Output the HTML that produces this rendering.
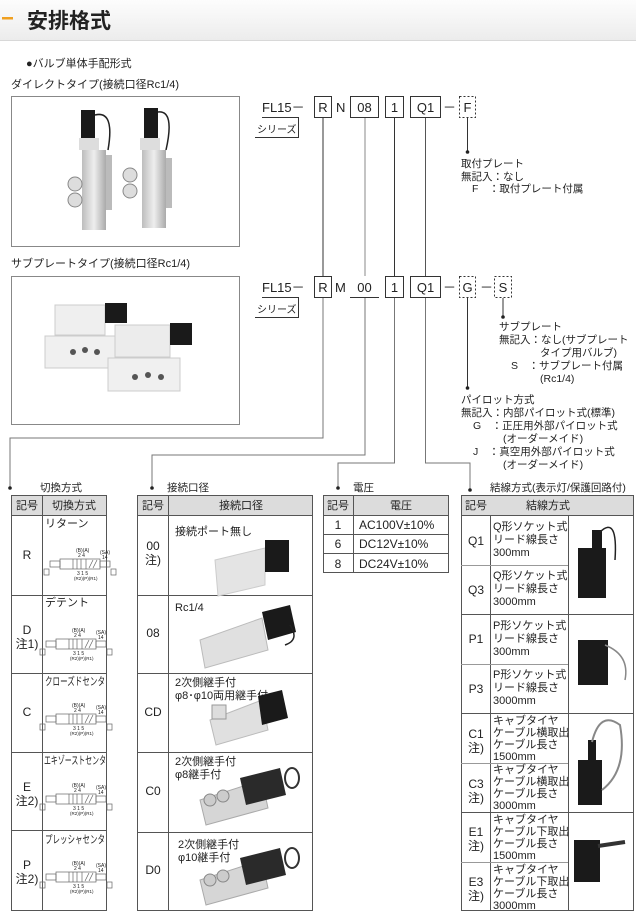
<!DOCTYPE html>
<html><head><meta charset="utf-8"><style>
html,body{margin:0;padding:0;background:#fff}
svg{display:block}
text{font-family:"Liberation Sans","Noto Sans CJK JP",sans-serif;fill:#222}
</style></head><body>
<svg width="636" height="912" viewBox="0 0 636 912" xmlns="http://www.w3.org/2000/svg">
<defs>
<linearGradient id="hg" x1="0" y1="0" x2="0" y2="1"><stop offset="0" stop-color="#fdfdfd"/><stop offset="1" stop-color="#ececec"/></linearGradient>
<linearGradient id="mg" x1="0" y1="0" x2="1" y2="0"><stop offset="0" stop-color="#bdbdbd"/><stop offset=".5" stop-color="#eeeeee"/><stop offset="1" stop-color="#aaaaaa"/></linearGradient>
<g id="sym" stroke="#666" stroke-width="0.7" fill="none">
<rect x="-20" y="-6" width="40" height="10"/><line x1="-7" y1="-6" x2="-7" y2="4"/><line x1="6" y1="-6" x2="6" y2="4"/>
<line x1="9" y1="3" x2="13" y2="-5"/><line x1="13" y1="3" x2="17" y2="-5"/><line x1="-3" y1="-6" x2="-3" y2="4"/><line x1="1" y1="-6" x2="1" y2="4"/>
<rect x="-30" y="-4" width="10" height="6"/><rect x="20" y="-4" width="10" height="6"/>
<text x="-4" y="-13" font-size="5" fill="#666" stroke="none">(B)(A)</text><text x="-2" y="-8" font-size="5" fill="#666" stroke="none">2 4</text>
<text x="20" y="-11" font-size="5" fill="#666" stroke="none">(SA)</text><text x="22" y="-6" font-size="5" fill="#666" stroke="none">14</text>
<text x="-3" y="10" font-size="5" fill="#666" stroke="none">3 1 5</text><text x="-6" y="15" font-size="4.5" fill="#666" stroke="none">(R2)(P)(R1)</text>
<rect x="31" y="4" width="5" height="6"/><rect x="-36" y="4" width="5" height="6"/>
</g>
</defs>
<rect x="0" y="0" width="636" height="40" fill="url(#hg)"/>
<line x1="0" y1="40.5" x2="636" y2="40.5" stroke="#d8d8d8"/>
<rect x="2" y="17" width="11" height="2.5" fill="#f0a020"/>
<text x="27" y="28" font-size="21" font-weight="bold" fill="#222">安排格式</text>
<text x="26" y="67" font-size="11">●バルブ単体手配形式</text>
<text x="11" y="88" font-size="11">ダイレクトタイプ(接続口径Rc1/4)</text>
<text x="11" y="267" font-size="11">サブプレートタイプ(接続口径Rc1/4)</text>
<rect x="11.5" y="96.5" width="228" height="150" fill="#fff" stroke="#888"/>
<rect x="11.5" y="276.5" width="228" height="148" fill="#fff" stroke="#888"/>
<g>
<rect x="81" y="110" width="14" height="28" fill="#1a1a1a"/><rect x="82" y="150" width="24" height="80" fill="url(#mg)"/><rect x="106" y="155" width="6" height="55" fill="#bbb"/>
<circle cx="75" cy="184" r="7" fill="#ddd" stroke="#888"/><circle cx="75" cy="200" r="7" fill="#ddd" stroke="#888"/><rect x="79" y="138" width="20" height="12" fill="#ddd"/>
<path d="M95 115 Q115 110 108 150" stroke="#222" stroke-width="1.5" fill="none"/>
<rect x="144" y="108" width="14" height="30" fill="#1a1a1a"/><rect x="142" y="150" width="24" height="78" fill="url(#mg)"/><rect x="166" y="158" width="6" height="50" fill="#bbb"/>
<circle cx="130" cy="175" r="7" fill="#ddd" stroke="#888"/><circle cx="130" cy="191" r="7" fill="#ddd" stroke="#888"/><rect x="140" y="138" width="20" height="12" fill="#ddd"/>
<path d="M158 112 Q175 110 166 150" stroke="#222" stroke-width="1.5" fill="none"/>
</g>
<g>
<rect x="55" y="305" width="50" height="30" fill="#efefef" stroke="#ccc"/><rect x="105" y="303" width="22" height="20" fill="#1a1a1a"/>
<rect x="45" y="336" width="70" height="32" fill="#f0f0f0" stroke="#ccc"/><circle cx="73" cy="352" r="3" fill="#555"/><circle cx="85" cy="350" r="3" fill="#555"/><circle cx="97" cy="352" r="3" fill="#555"/>
<rect x="115" y="325" width="55" height="32" fill="#ececec" stroke="#ccc"/><rect x="170" y="323" width="22" height="22" fill="#1a1a1a"/>
<rect x="108" y="358" width="72" height="33" fill="#f0f0f0" stroke="#ccc"/><circle cx="135" cy="377" r="3" fill="#555"/><circle cx="148" cy="375" r="3" fill="#555"/><circle cx="161" cy="377" r="3" fill="#555"/>
</g>
<g font-size="13" fill="#333">
<text x="262" y="112">FL15－</text><text x="336" y="112">N</text>
<text x="262" y="292">FL15－</text><text x="335" y="292">M</text>
<text x="443" y="112">－</text><text x="443" y="292">－</text><text x="480" y="292">－</text>
</g>
<g fill="none" stroke="#333" stroke-width="1">
<rect x="314.5" y="96.5" width="17" height="21"/><rect x="350.5" y="96.5" width="28" height="21"/><rect x="385.5" y="96.5" width="18" height="21"/><rect x="410.5" y="96.5" width="30" height="21"/>
<rect x="459.5" y="96.5" width="16" height="21" stroke-dasharray="2,2"/>
<rect x="314.5" y="276.5" width="17" height="21"/><line x1="350" y1="297.5" x2="379" y2="297.5"/><rect x="385.5" y="276.5" width="18" height="21"/><rect x="410.5" y="276.5" width="30" height="21"/>
<rect x="459.5" y="276.5" width="16" height="21" stroke-dasharray="2,2"/><rect x="494.5" y="276.5" width="17" height="21" stroke-dasharray="2,2"/>
<polyline points="262,117.5 298.5,117.5 298.5,137"/><line x1="255" y1="137.5" x2="299" y2="137.5"/>
<polyline points="262,297.5 298.5,297.5 298.5,317"/><line x1="255" y1="317.5" x2="299" y2="317.5"/>
</g>
<g font-size="13" fill="#333" text-anchor="middle">
<text x="323" y="112">R</text><text x="364.5" y="112">08</text><text x="394.5" y="112">1</text><text x="425.5" y="112">Q1</text><text x="467.5" y="112">F</text>
<text x="323" y="292">R</text><text x="364.5" y="292">00</text><text x="394.5" y="292">1</text><text x="425.5" y="292">Q1</text><text x="467.5" y="292">G</text><text x="503" y="292">S</text>
</g>
<text x="257" y="133" font-size="10">シリーズ</text><text x="257" y="313" font-size="10">シリーズ</text>
<g fill="none" stroke-width="1">
<line x1="323" y1="118" x2="323" y2="276" stroke="#333"/>
<line x1="365" y1="118" x2="365" y2="276" stroke="#888"/>
<line x1="394.5" y1="118" x2="394.5" y2="276" stroke="#333"/>
<line x1="425.5" y1="118" x2="425.5" y2="276" stroke="#555"/>
<line x1="467.5" y1="118" x2="467.5" y2="152" stroke="#333"/>
<polyline points="323,298 323,438 10,438 10,488" stroke="#777"/>
<polyline points="365,298 365,455 152,455 152,488" stroke="#777"/>
<polyline points="394.5,298 394.5,463 338,463 338,488" stroke="#777"/>
<polyline points="425.5,298 425.5,463 470,463 470,490" stroke="#777"/>
<line x1="467.5" y1="298" x2="467.5" y2="388" stroke="#333"/>
<line x1="503" y1="298" x2="503" y2="317" stroke="#333"/>
</g>
<g fill="#222">
<circle cx="467.5" cy="152" r="1.8"/><circle cx="467.5" cy="388" r="1.8"/><circle cx="503" cy="317" r="1.8"/>
<circle cx="10" cy="488" r="1.8"/><circle cx="152" cy="488" r="1.8"/><circle cx="338" cy="488" r="1.8"/><circle cx="470" cy="490" r="1.8"/>
</g>
<g font-size="10.5">
<text x="461" y="167">取付プレート</text><text x="461" y="180">無記入：なし</text><text x="472" y="192">F　：取付プレート付属</text>
<text x="499" y="330">サブプレート</text><text x="499" y="343">無記入：なし(サブプレート</text><text x="540" y="356">タイプ用バルブ)</text><text x="511" y="369">S　：サブプレート付属</text><text x="540" y="382">(Rc1/4)</text>
<text x="461" y="403">パイロット方式</text><text x="461" y="416">無記入：内部パイロット式(標準)</text><text x="473" y="429">G　：正圧用外部パイロット式</text><text x="503" y="442">(オーダーメイド)</text><text x="473" y="455">J　：真空用外部パイロット式</text><text x="503" y="468">(オーダーメイド)</text>
<text x="40" y="491">切換方式</text><text x="167" y="491">接続口径</text><text x="353" y="491">電圧</text><text x="490" y="491">結線方式(表示灯/保護回路付)</text>
</g>
<g fill="#dcdcdc"><rect x="11" y="495" width="96" height="20"/><rect x="137" y="495" width="176" height="20"/><rect x="323" y="495" width="126" height="20"/><rect x="461" y="495" width="173" height="20"/></g>
<g fill="none" stroke="#555" stroke-width="1">
<rect x="11.5" y="495.5" width="95" height="415"/><line x1="42.5" y1="495" x2="42.5" y2="911"/>
<line x1="11" y1="515.5" x2="107" y2="515.5"/><line x1="11" y1="595.5" x2="107" y2="595.5"/><line x1="11" y1="673.5" x2="107" y2="673.5"/><line x1="11" y1="752.5" x2="107" y2="752.5"/><line x1="11" y1="830.5" x2="107" y2="830.5"/>
<rect x="137.5" y="495.5" width="175" height="415"/><line x1="168.5" y1="495" x2="168.5" y2="911"/>
<line x1="137" y1="515.5" x2="313" y2="515.5"/><line x1="137" y1="595.5" x2="313" y2="595.5"/><line x1="137" y1="673.5" x2="313" y2="673.5"/><line x1="137" y1="752.5" x2="313" y2="752.5"/><line x1="137" y1="832.5" x2="313" y2="832.5"/>
<rect x="323.5" y="495.5" width="125" height="77"/><line x1="353.5" y1="495" x2="353.5" y2="573"/>
<line x1="323" y1="515.5" x2="449" y2="515.5"/><line x1="323" y1="534.5" x2="449" y2="534.5"/><line x1="323" y1="553.5" x2="449" y2="553.5"/>
<rect x="461.5" y="495.5" width="172" height="415"/><line x1="490.5" y1="515" x2="490.5" y2="911"/><line x1="568.5" y1="515" x2="568.5" y2="911"/>
<line x1="461" y1="515.5" x2="634" y2="515.5"/><line x1="461" y1="614.5" x2="634" y2="614.5"/><line x1="461" y1="713.5" x2="634" y2="713.5"/><line x1="461" y1="812.5" x2="634" y2="812.5"/>
</g>
<g fill="none" stroke="#999" stroke-width="1">
<line x1="461" y1="565.5" x2="568" y2="565.5"/><line x1="461" y1="664.5" x2="568" y2="664.5"/><line x1="461" y1="763.5" x2="568" y2="763.5"/><line x1="461" y1="862.5" x2="568" y2="862.5"/>
</g>
<g font-size="11" text-anchor="middle">
<text x="27" y="509">記号</text><text x="74" y="509">切換方式</text>
<text x="153" y="509">記号</text><text x="241" y="509">接続口径</text>
<text x="338" y="509">記号</text><text x="401" y="509">電圧</text>
<text x="476" y="509">記号</text><text x="548" y="509">結線方式</text>
</g>
<g font-size="12" text-anchor="middle" fill="#333">
<text x="27" y="559">R</text><text x="27" y="634">D</text><text x="27" y="648">注1)</text><text x="27" y="716">C</text>
<text x="27" y="791">E</text><text x="27" y="805">注2)</text><text x="27" y="869">P</text><text x="27" y="883">注2)</text>
<text x="153" y="550">00</text><text x="153" y="564">注)</text><text x="153" y="637">08</text><text x="153" y="716">CD</text><text x="153" y="795">C0</text><text x="153" y="874">D0</text>
<text x="338" y="529">1</text><text x="338" y="548">6</text><text x="338" y="568">8</text>
<text x="476" y="545">Q1</text><text x="476" y="594">Q3</text><text x="476" y="643">P1</text><text x="476" y="693">P3</text>
<text x="476" y="738">C1</text><text x="476" y="752">注)</text><text x="476" y="788">C3</text><text x="476" y="802">注)</text>
<text x="476" y="836">E1</text><text x="476" y="850">注)</text><text x="476" y="886">E3</text><text x="476" y="900">注)</text>
</g>
<g font-size="12" fill="#333"><text x="359" y="529">AC100V±10%</text><text x="359" y="548">DC12V±10%</text><text x="359" y="568">DC24V±10%</text></g>
<g font-size="11">
<text x="45" y="527">リターン</text><text x="45" y="606">デテント</text><text x="45" y="685" textLength="60" lengthAdjust="spacingAndGlyphs">クローズドセンタ</text><text x="44" y="764" textLength="62" lengthAdjust="spacingAndGlyphs">エキゾーストセンタ</text><text x="45" y="843" textLength="60" lengthAdjust="spacingAndGlyphs">プレッシャセンタ</text>
<text x="175" y="535">接続ポート無し</text><text x="175" y="611">Rc1/4</text><text x="175" y="686">2次側継手付</text><text x="175" y="699">φ8･φ10両用継手付</text>
<text x="175" y="765">2次側継手付</text><text x="175" y="778">φ8継手付</text><text x="178" y="848">2次側継手付</text><text x="178" y="861">φ10継手付</text>
</g>
<g font-size="11" fill="#333">
<text x="493" y="530">Q形ソケット式</text><text x="493" y="543">リード線長さ</text><text x="493" y="556">300mm</text>
<text x="493" y="579">Q形ソケット式</text><text x="493" y="592">リード線長さ</text><text x="493" y="605">3000mm</text>
<text x="493" y="629">P形ソケット式</text><text x="493" y="642">リード線長さ</text><text x="493" y="655">300mm</text>
<text x="493" y="678">P形ソケット式</text><text x="493" y="691">リード線長さ</text><text x="493" y="704">3000mm</text>
<text x="493" y="724">キャブタイヤ</text><text x="493" y="736">ケーブル横取出</text><text x="493" y="748">ケーブル長さ</text><text x="493" y="760">1500mm</text>
<text x="493" y="773">キャブタイヤ</text><text x="493" y="785">ケーブル横取出</text><text x="493" y="797">ケーブル長さ</text><text x="493" y="809">3000mm</text>
<text x="493" y="823">キャブタイヤ</text><text x="493" y="835">ケーブル下取出</text><text x="493" y="847">ケーブル長さ</text><text x="493" y="859">1500mm</text>
<text x="493" y="873">キャブタイヤ</text><text x="493" y="885">ケーブル下取出</text><text x="493" y="897">ケーブル長さ</text><text x="493" y="909">3000mm</text>
</g>
<use href="#sym" x="80" y="565"/><use href="#sym" x="76" y="645"/><use href="#sym" x="76" y="720"/><use href="#sym" x="76" y="800"/><use href="#sym" x="76" y="878"/>
<g>
<polygon points="215,560 265,548 265,585 218,596" fill="#e4e4e4" stroke="#ccc"/><rect x="265" y="540" width="24" height="32" fill="#1a1a1a"/>
<polygon points="200,640 262,618 268,650 205,668" fill="#e0e0e0" stroke="#bbb"/><polygon points="262,612 290,605 296,632 268,640" fill="#1a1a1a"/><path d="M290 625 Q300 640 285 645" stroke="#222" fill="none" stroke-width="1.5"/>
<polygon points="210,720 262,700 268,730 216,745" fill="#e0e0e0" stroke="#bbb"/><polygon points="258,696 282,690 288,718 262,725" fill="#1a1a1a"/><rect x="212" y="705" width="14" height="14" fill="#ddd" stroke="#999"/>
<polygon points="200,800 262,780 268,808 206,825" fill="#d6d6d6" stroke="#aaa"/><polygon points="240,778 280,768 286,795 246,805" fill="#2a2a2a"/><ellipse cx="292" cy="778" rx="7" ry="10" fill="none" stroke="#333" stroke-width="2"/>
<circle cx="210" cy="800" r="6" fill="#ccc" stroke="#888"/><circle cx="223" cy="796" r="6" fill="#ccc" stroke="#888"/>
<polygon points="200,880 262,860 268,888 206,905" fill="#d6d6d6" stroke="#aaa"/><polygon points="240,858 280,848 286,875 246,885" fill="#2a2a2a"/><ellipse cx="292" cy="858" rx="7" ry="10" fill="none" stroke="#333" stroke-width="2"/>
<circle cx="210" cy="880" r="6" fill="#ccc" stroke="#888"/><circle cx="223" cy="876" r="6" fill="#ccc" stroke="#888"/>
</g>
<g>
<rect x="578" y="548" width="28" height="50" fill="#1a1a1a"/><rect x="592" y="530" width="10" height="20" fill="#1a1a1a"/><path d="M600 532 Q618 515 615 560" stroke="#222" fill="none" stroke-width="1.5"/>
<rect x="578" y="640" width="30" height="45" fill="#1a1a1a"/><path d="M605 645 Q630 655 625 680" stroke="#888" fill="none" stroke-width="1.5"/>
<rect x="578" y="760" width="24" height="45" fill="#1a1a1a"/><rect x="588" y="740" width="8" height="22" fill="#1a1a1a"/><path d="M592 742 Q600 710 620 725 Q628 770 602 790" stroke="#888" fill="none" stroke-width="2"/>
<rect x="574" y="840" width="26" height="42" fill="#1a1a1a"/><path d="M598 846 L625 842" stroke="#333" stroke-width="4"/>
</g>
</svg>
</body></html>
